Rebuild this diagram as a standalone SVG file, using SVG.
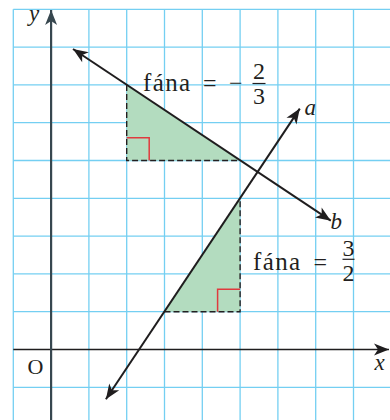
<svg xmlns="http://www.w3.org/2000/svg" width="390" height="420" viewBox="0 0 390 420">
  <defs>
    <style>
      .grid line { stroke: #74cff2; stroke-width: 1.3; }
      .tri { fill: #b3dcbf; stroke: none; }
      .dash { fill: none; stroke: #231f20; stroke-width: 1.4; stroke-dasharray: 6 3; }
      .right { fill: none; stroke: #e03a3e; stroke-width: 1.5; }
      .line { stroke: #1f1d1e; stroke-width: 2; fill: none; }
      text { font-family: 'Liberation Serif', 'DejaVu Serif', serif; fill: #231f20; }
      .it { font-style: italic; }
      .bar { stroke: #231f20; stroke-width: 1.2; }
    </style>
    <marker id="arr" viewBox="-16 -8 18 16" refX="0" refY="0" markerWidth="18" markerHeight="16" markerUnits="userSpaceOnUse" orient="auto-start-reverse">
      <path d="M0,0 L-15,-6 L-11,0 L-15,6 Z" fill="#1f1d1e"/>
    </marker>
    <marker id="arrY" viewBox="-16 -8 18 16" refX="0" refY="0" markerWidth="18" markerHeight="16" markerUnits="userSpaceOnUse" orient="auto">
      <path d="M0,0 L-15,-6 L-11,0 L-15,6 Z" fill="#37474f"/>
    </marker>
  </defs>

  <rect x="0" y="0" width="390" height="420" fill="#ffffff"/>

  <g id="grid" class="grid">
    <line x1="13.3" y1="9.3" x2="13.3" y2="420"/>
    <line x1="88.9" y1="9.3" x2="88.9" y2="420"/>
    <line x1="126.7" y1="9.3" x2="126.7" y2="420"/>
    <line x1="164.5" y1="9.3" x2="164.5" y2="420"/>
    <line x1="202.3" y1="9.3" x2="202.3" y2="420"/>
    <line x1="240.1" y1="9.3" x2="240.1" y2="420"/>
    <line x1="277.9" y1="9.3" x2="277.9" y2="420"/>
    <line x1="315.7" y1="9.3" x2="315.7" y2="420"/>
    <line x1="353.5" y1="9.3" x2="353.5" y2="420"/>
    <line x1="13.3" y1="9.3" x2="390" y2="9.3"/>
    <line x1="13.3" y1="47.1" x2="390" y2="47.1"/>
    <line x1="13.3" y1="84.9" x2="390" y2="84.9"/>
    <line x1="13.3" y1="122.7" x2="390" y2="122.7"/>
    <line x1="13.3" y1="160.5" x2="390" y2="160.5"/>
    <line x1="13.3" y1="198.3" x2="390" y2="198.3"/>
    <line x1="13.3" y1="236.1" x2="390" y2="236.1"/>
    <line x1="13.3" y1="273.9" x2="390" y2="273.9"/>
    <line x1="13.3" y1="311.7" x2="390" y2="311.7"/>
    <line x1="13.3" y1="387.3" x2="390" y2="387.3"/>
  </g>

  <g id="triangle-b">
    <polygon class="tri" points="126.7,84.9 126.7,160.5 240.1,160.5"/>
    <polyline class="dash" points="126.7,84.9 126.7,160.5 240.1,160.5"/>
    <polyline class="right" points="126.7,137.8 149.2,137.8 149.2,160.5"/>
  </g>

  <g id="triangle-a">
    <polygon class="tri" points="164.5,311.7 240.1,311.7 240.1,198.3"/>
    <polyline class="dash" points="164.5,311.7 240.1,311.7 240.1,198.3"/>
    <polyline class="right" points="217.6,311.7 217.6,289.2 240.1,289.2"/>
  </g>

  <g id="connectors">
    <line id="x-axis" x1="13.3" y1="349.5" x2="389" y2="349.5" stroke="#1f1d1e" stroke-width="1.6" marker-end="url(#arr)"/>
    <line id="y-axis" x1="51.1" y1="420" x2="51.1" y2="10" stroke="#37474f" stroke-width="2.2" marker-end="url(#arrY)"/>
    <line id="line-a" class="line" x1="105.9" y1="399.3" x2="299.8" y2="108.6" marker-start="url(#arr)" marker-end="url(#arr)"/>
    <line id="line-b" class="line" x1="73" y1="49" x2="330.8" y2="220.7" marker-start="url(#arr)" marker-end="url(#arr)"/>
  </g>

  <g id="labels" font-family="'Liberation Serif', 'DejaVu Serif', serif">
    <text class="it" x="29" y="21" font-size="23">y</text>
    <text x="27.5" y="373.5" font-size="22">O</text>
    <text class="it" x="374.5" y="370" font-size="23">x</text>
    <text class="it" x="304.5" y="115" font-size="23">a</text>
    <text class="it" x="330.5" y="228.5" font-size="23">b</text>
  </g>

  <g id="slope-b" font-family="'Liberation Serif', 'DejaVu Serif', serif">
    <text x="143" y="91" font-size="25" letter-spacing="1.4">fána</text>
    <text x="203" y="91" font-size="24">=</text>
    <text x="229" y="91" font-size="24">−</text>
    <text x="259" y="79" font-size="24" text-anchor="middle">2</text>
    <line class="bar" x1="252.5" y1="83.5" x2="265.5" y2="83.5"/>
    <text x="259" y="104.3" font-size="24" text-anchor="middle">3</text>
  </g>

  <g id="slope-a" font-family="'Liberation Serif', 'DejaVu Serif', serif">
    <text x="253" y="269.5" font-size="25" letter-spacing="1.4">fána</text>
    <text x="313.5" y="269.5" font-size="24">=</text>
    <text x="348.5" y="255.5" font-size="24" text-anchor="middle">3</text>
    <line class="bar" x1="342.5" y1="259.3" x2="354.5" y2="259.3"/>
    <text x="348.5" y="280.8" font-size="24" text-anchor="middle">2</text>
  </g>
</svg>
